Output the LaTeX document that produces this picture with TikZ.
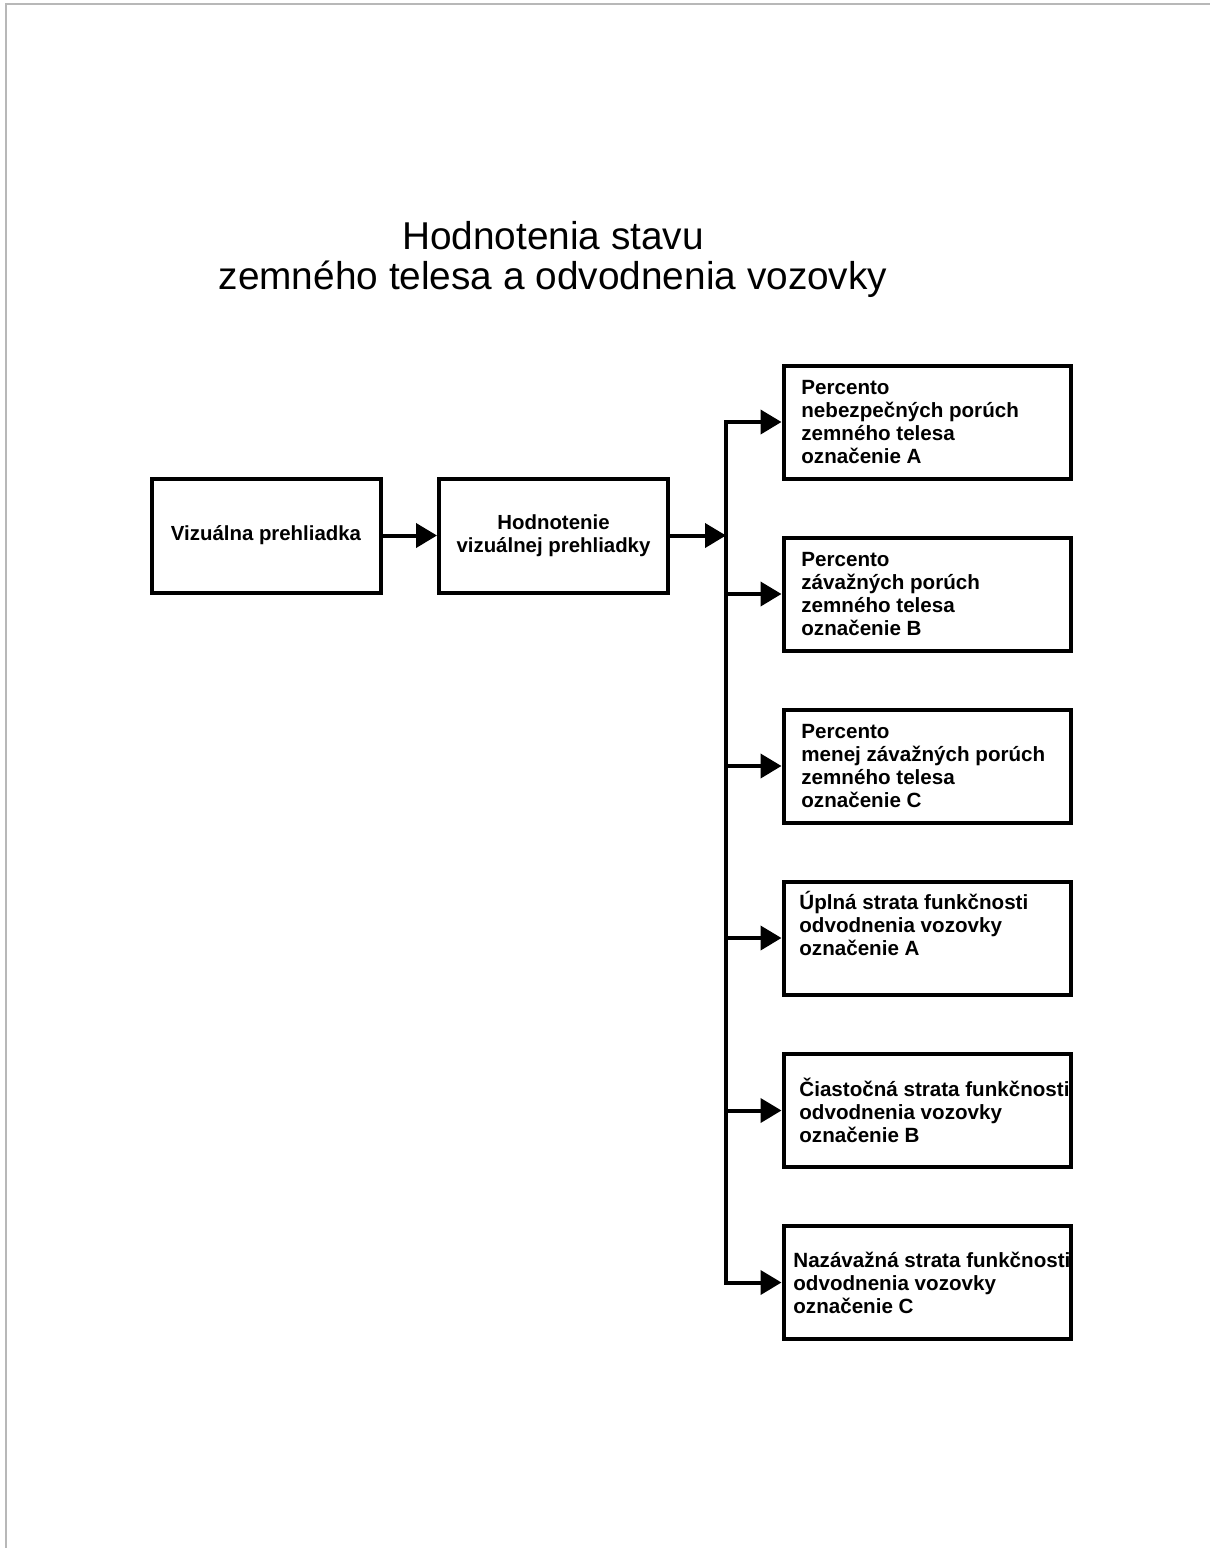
\documentclass[tikz,border=0pt]{standalone}
\usepackage{fontspec}
\setmainfont{Liberation Sans}
\usetikzlibrary{arrows.meta,positioning}

\tikzset{
    frame/.style={draw=black!28, line width=1.1pt},
    title/.style={align=center, inner sep=0pt, font=\fontsize{19.4}{20}\selectfont},
    box/.style={draw, line width=2pt, inner sep=0pt},
    lbox/.style={box, minimum width=114.5pt, minimum height=57pt, align=center,
        font=\bfseries\fontsize{10.2}{11.5}\selectfont},
    rbox/.style={box, minimum width=143.5pt, minimum height=56.5pt},
    boxtext/.style={align=left, inner sep=0pt, font=\bfseries\fontsize{10.3}{11.5}\selectfont},
    wire/.style={line width=2pt},
    tip/.tip={Triangle[length=10.5pt, width=12pt]},
    arr/.style={wire, -tip},
}

\begin{document}
\begin{tikzpicture}[x=0.5pt, y=-0.5pt]
    \useasboundingbox (0,0) rectangle (1210,1548);
    % ramik obrazka
    \draw[frame] (6,1548) -- (6,4) -- (1210,4);

    % nadpis
    \node[title] (title) at (553,259) {Hodnotenia stavu\\zemného telesa a odvodnenia vozovky};

    % lavy riadok
    \node[lbox] (viz) at (266,535.5) {Vizuálna prehliadka};
    \node[lbox] (hodn) at (553.5,535.5) {Hodnotenie\\vizuálnej prehliadky};

    % pravy stlpec
    \foreach \i/\y/\dx/\dy/\txt in {
        1/422/9.75/0/{Percento\\nebezpečných porúch\\zemného telesa\\označenie A},
        2/594/9.75/0/{Percento\\závažných porúch\\zemného telesa\\označenie B},
        3/766/9.75/0/{Percento\\menej závažných porúch\\zemného telesa\\označenie C},
        4/938/8.75/7.5/{Úplná strata funkčnosti\\odvodnenia vozovky\\označenie A},
        5/1110.5/8.75/0/{Čiastočná strata funkčnosti\\odvodnenia vozovky\\označenie B},
        6/1282.5/5.75/0/{Nazávažná strata funkčnosti\\odvodnenia vozovky\\označenie C}}
    {
        \node[rbox] (r\i) at (927,\y) {};
        \node[boxtext, anchor=west] (t\i) at ([xshift=\dx pt, yshift=\dy pt]r\i.west) {\txt};
    }

    % zbernica a sipky
    \coordinate (bus) at (726,0);
    \draw[arr] (viz) -- (hodn);
    \draw[arr] (hodn.east) -- (bus |- hodn.east);
    \draw[wire, tip-tip] (r1.west) -| (bus |- r6.west) -- (r6.west);
    \foreach \i in {2,...,5}
        \draw[arr] (bus |- r\i.west) -- (r\i.west);
\end{tikzpicture}
\end{document}
